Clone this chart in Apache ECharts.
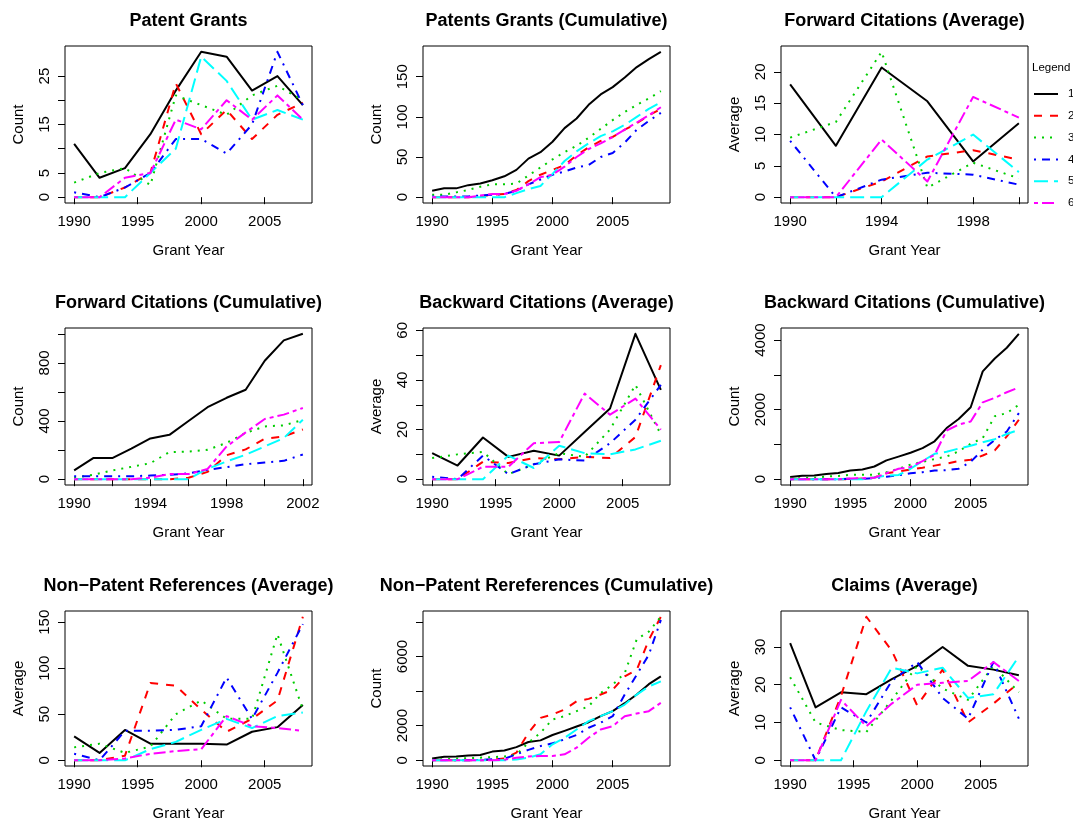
<!DOCTYPE html>
<html>
<head>
<meta charset="utf-8">
<title>Patent indicators by group</title>
<script src="https://cdn.jsdelivr.net/npm/echarts@6/dist/echarts.min.js"></script>
<style>
  html, body { margin: 0; padding: 0; background: #ffffff; }
  #chart { width: 1073px; height: 822px; }
</style>
</head>
<body>
<div id="chart"></div>
<script>
// ---- x values -------------------------------------------------------------
const yearsBiennial = [1990, 1992, 1994, 1996, 1998, 2000, 2002, 2004, 2006, 2008];
const yearsAnnual = [1990, 1991, 1992, 1993, 1994, 1995, 1996, 1997, 1998, 1999,
                     2000, 2001, 2002, 2003, 2004, 2005, 2006, 2007, 2008, 2009];
const yearsFwdAvg = [1990, 1992, 1994, 1996, 1998, 2000];
const yearsFwdCum = [1990, 1991, 1992, 1993, 1994, 1995, 1996, 1997, 1998, 1999, 2000, 2001, 2002];

// ---- series values (groups 1..6 per panel) ---------------------------------
const patentGrants = [
  [11, 4, 6, 13, 22, 30, 29, 22, 25, 19],
  [0, 0, 2, 5, 23.5, 13, 18, 12, 17, 19.5],
  [3, 5, 6, 2.5, 21, 19, 17, 21, 23, 20],
  [1, 0, 2, 5, 12, 12, 9, 15, 30, 19],
  [0, 0, 0, 5, 10, 29, 24, 16, 18, 16],
  [0, 0, 4, 5, 16, 14, 20, 16, 21, 16]
];
const patentGrantsCum = [
  [8, 11, 11, 15, 17, 21, 26, 34, 48, 56, 69, 86, 98, 115, 128, 137, 149, 162, 172, 181],
  [0, 0, 0, 0, 1, 3, 4, 9, 20, 28, 34, 40, 52, 62, 70, 75, 84, 92, 102, 110],
  [3, 3, 6, 9, 13, 16, 16, 17, 27, 37, 47, 56, 64, 74, 85, 96, 106, 115, 123, 132],
  [1, 1, 1, 1, 2, 3, 4, 8, 16, 22, 28, 32, 37, 40, 50, 55, 68, 84, 95, 105],
  [0, 0, 0, 0, 0, 0, 0, 5, 10, 14, 29, 45, 57, 67, 76, 82, 90, 100, 110, 118],
  [0, 0, 0, 0, 2, 4, 4, 8, 16, 25, 28, 38, 50, 60, 67, 75, 84, 93, 102, 112]
];
const fwdCitesAvg = [
  [18, 8.2, 20.7, 15.3, 5.7, 11.8],
  [0, 0, 2.5, 6.5, 7.5, 6],
  [9.5, 12, 23.2, 1.5, 5.5, 3],
  [9, 0, 2.8, 3.9, 3.6, 2],
  [0, 0, 0, 6, 10, 4],
  [0, 0, 9.2, 2.5, 16, 12.7]
];
const fwdCitesCum = [
  [60, 145, 145, 210, 280, 305, 400, 495, 560, 615, 815, 955, 1000],
  [0, 0, 0, 0, 0, 0, 10, 50, 165, 205, 278, 294, 342],
  [10, 30, 60, 85, 110, 186, 190, 202, 250, 318, 363, 370, 408],
  [20, 20, 20, 20, 25, 30, 40, 64, 83, 103, 115, 126, 170],
  [0, 0, 0, 0, 0, 0, 0, 72, 122, 168, 225, 283, 409],
  [0, 0, 0, 0, 10, 35, 35, 70, 225, 322, 414, 444, 490]
];
const bwdCitesAvg = [
  [10.5, 5.5, 16.8, 9, 11.5, 9.5, 19, 28.5, 58.6, 36],
  [0, 0, 7, 6.5, 8.5, 8, 9, 8.5, 17, 46],
  [8.5, 10, 11, 2, 6, 10.5, 9, 20, 38, 18],
  [1, 0, 9.5, 2, 6, 8, 7.5, 14.5, 24, 38],
  [0, 0, 0, 9.5, 4.5, 13.5, 10.5, 10, 12, 15.5],
  [0, 0, 5, 5, 14.5, 15, 34.5, 26, 32.5, 20]
];
const bwdCitesCum = [
  [60, 100, 105, 150, 180, 250, 280, 365, 540, 650, 760, 895, 1090, 1470, 1730, 2070, 3100, 3470, 3780, 4180],
  [0, 0, 0, 0, 0, 0, 20, 50, 170, 220, 280, 330, 390, 450, 520, 560, 680, 830, 1230, 1710],
  [20, 30, 40, 80, 90, 130, 130, 130, 200, 300, 420, 500, 580, 650, 800, 1020, 1180, 1810, 1900, 2140],
  [0, 0, 0, 0, 0, 10, 10, 30, 70, 110, 170, 200, 250, 260, 300, 500, 850, 1130, 1370, 1900],
  [0, 0, 0, 0, 0, 0, 0, 50, 100, 120, 300, 520, 730, 790, 880, 960, 1060, 1150, 1300, 1420],
  [0, 0, 0, 0, 0, 20, 30, 40, 170, 300, 350, 520, 700, 1400, 1570, 1660, 2210, 2340, 2500, 2640]
];
const nplAvg = [
  [26, 8, 33, 18, 18, 18, 17, 31, 36, 60],
  [0, 0, 5, 84, 81, 55, 31, 45, 65, 156],
  [14, 18, 8, 15, 50, 65, 45, 45, 137, 55],
  [7, 0, 32, 32, 33, 37, 90, 45, 95, 148],
  [0, 0, 0, 12, 20, 33, 45, 35, 48, 52],
  [0, 0, 2, 7, 10, 12, 48, 37, 35, 32]
];
const nplCum = [
  [100, 200, 220, 270, 300, 500, 560, 760, 1055, 1150, 1460, 1700, 1950, 2200, 2550, 2840, 3300, 3800, 4400, 4850],
  [0, 0, 0, 0, 0, 50, 100, 440, 1590, 2450, 2650, 2930, 3410, 3550, 3800, 4080, 4850, 5230, 6960, 8300],
  [20, 60, 100, 120, 150, 180, 220, 320, 1015, 1590, 2360, 2550, 2840, 3120, 3890, 4370, 5040, 7000, 7440, 8300],
  [0, 0, 0, 0, 20, 60, 80, 345, 600, 820, 980, 1210, 1460, 1880, 2170, 2550, 3800, 4950, 6100, 8110],
  [0, 0, 0, 0, 0, 0, 0, 50, 150, 345, 920, 1300, 1780, 2260, 2550, 2840, 3220, 3800, 4270, 4560],
  [0, 0, 0, 0, 0, 0, 30, 150, 220, 250, 250, 345, 730, 1300, 1780, 1970, 2550, 2700, 2840, 3320]
];
const claimsAvg = [
  [31, 14, 18, 17.5, 21.5, 25, 30, 25, 24, 22.5],
  [0, 0, 17, 38, 29, 14.5, 24, 10, 15, 20.5],
  [22, 10, 8, 7.5, 16, 25, 19, 16, 25, 18],
  [14, 0, 14, 10, 21, 26, 16.5, 11, 26, 11],
  [0, 0, 0, 13, 24.5, 23, 24.5, 16.5, 17.5, 27.5],
  [0, 0, 16, 9, 15, 20, 20.5, 21, 26, 21]
];

// ---- group names and tick positions ----------------------------------------
const groupNames = ['1', '2', '3', '4', '5', '6'];
const xTicks5 = [1990, 1995, 2000, 2005];
const xTicksFwdAvg = [1990, 1992, 1994, 1996, 1998, 2000];
const xLabelsFwdAvg = [1990, 1994, 1998];
const xTicksFwdCum = [1990, 1992, 1994, 1996, 1998, 2000, 2002];
const xLabelsFwdCum = [1990, 1994, 1998, 2002];

// ---- styling ---------------------------------------------------------------
const FONT = '"Liberation Sans", Arial, Helvetica, sans-serif';
const COLORS = ['#000000', '#FF0000', '#00CD00', '#0000FF', '#00FFFF', '#FF00FF'];
const DASHES = ['solid', [8, 8], [2, 6], [2, 6, 8, 6], [14, 6], [4, 4, 12, 4]];
const COL_LEFT = [65, 423, 781];
const ROW_TOP = [46, 328, 611];
const ROW_H = [157, 157, 156];
const BOX_W = 247;

const panels = [
  { title: 'Patent Grants', yName: 'Count', years: yearsBiennial, values: patentGrants,
    xTicks: xTicks5, xLabels: xTicks5, yTicks: [0, 5, 10, 15, 20, 25], yLabels: [0, 5, 15, 25] },
  { title: 'Patents Grants (Cumulative)', yName: 'Count', years: yearsAnnual, values: patentGrantsCum,
    xTicks: xTicks5, xLabels: xTicks5, yTicks: [0, 50, 100, 150], yLabels: [0, 50, 100, 150] },
  { title: 'Forward Citations (Average)', yName: 'Average', years: yearsFwdAvg, values: fwdCitesAvg,
    xTicks: xTicksFwdAvg, xLabels: xLabelsFwdAvg, yTicks: [0, 5, 10, 15, 20], yLabels: [0, 5, 10, 15, 20] },
  { title: 'Forward Citations (Cumulative)', yName: 'Count', years: yearsFwdCum, values: fwdCitesCum,
    xTicks: xTicksFwdCum, xLabels: xLabelsFwdCum, yTicks: [0, 200, 400, 600, 800, 1000], yLabels: [0, 400, 800] },
  { title: 'Backward Citations (Average)', yName: 'Average', years: yearsBiennial, values: bwdCitesAvg,
    xTicks: xTicks5, xLabels: xTicks5, yTicks: [0, 10, 20, 30, 40, 50, 60], yLabels: [0, 20, 40, 60] },
  { title: 'Backward Citations (Cumulative)', yName: 'Count', years: yearsAnnual, values: bwdCitesCum,
    xTicks: xTicks5, xLabels: xTicks5, yTicks: [0, 1000, 2000, 3000, 4000], yLabels: [0, 2000, 4000] },
  { title: 'Non\u2212Patent References (Average)', yName: 'Average', years: yearsBiennial, values: nplAvg,
    xTicks: xTicks5, xLabels: xTicks5, yTicks: [0, 50, 100, 150], yLabels: [0, 50, 100, 150] },
  { title: 'Non\u2212Patent Rereferences (Cumulative)', yName: 'Count', years: yearsAnnual, values: nplCum,
    xTicks: xTicks5, xLabels: xTicks5, yTicks: [0, 2000, 4000, 6000, 8000], yLabels: [0, 2000, 6000] },
  { title: 'Claims (Average)', yName: 'Average', years: yearsBiennial, values: claimsAvg,
    xTicks: xTicks5, xLabels: xTicks5, yTicks: [0, 10, 20, 30], yLabels: [0, 10, 20, 30] }
];

// R-style 4% padding on each side of the data range
const padMin = v => v.min - 0.04 * (v.max - v.min);
const padMax = v => v.max + 0.04 * (v.max - v.min);

const grids = [], xAxes = [], yAxes = [], titles = [], series = [];

panels.forEach((p, i) => {
  const col = i % 3, row = Math.floor(i / 3);
  const left = COL_LEFT[col], top = ROW_TOP[row], height = ROW_H[row];
  grids.push({
    left: left, top: top, width: BOX_W, height: height,
    show: true, borderColor: '#000', borderWidth: 1, backgroundColor: 'transparent'
  });
  const x0 = p.years[0], x1 = p.years[p.years.length - 1];
  xAxes.push({
    type: 'value', gridIndex: i,
    min: x0 - 0.04 * (x1 - x0), max: x1 + 0.04 * (x1 - x0),
    axisLine: { show: false },
    axisTick: { show: true, inside: false, length: 7, customValues: p.xTicks,
                lineStyle: { color: '#000', width: 1 } },
    axisLabel: { show: true, customValues: p.xLabels, margin: 11, fontSize: 15,
                 color: '#000', fontFamily: FONT, formatter: v => String(v) },
    splitLine: { show: false },
    name: 'Grant Year', nameLocation: 'middle', nameGap: 40,
    nameTextStyle: { fontSize: 15, color: '#000', fontFamily: FONT }
  });
  yAxes.push({
    type: 'value', gridIndex: i,
    min: padMin, max: padMax,
    axisLine: { show: false },
    axisTick: { show: true, inside: false, length: 7, customValues: p.yTicks,
                lineStyle: { color: '#000', width: 1 } },
    axisLabel: { show: true, customValues: p.yLabels, rotate: 90, margin: 13, fontSize: 15,
                 color: '#000', fontFamily: FONT, formatter: v => String(v) },
    splitLine: { show: false },
    name: p.yName, nameLocation: 'middle', nameGap: 39, nameRotate: 90,
    nameTextStyle: { fontSize: 15, color: '#000', fontFamily: FONT }
  });
  titles.push({
    text: p.title, left: left + BOX_W / 2, top: top - 34, textAlign: 'center', padding: 0,
    textStyle: { fontSize: 18, fontWeight: 'bold', color: '#000', fontFamily: FONT }
  });
  p.values.forEach((vals, k) => {
    series.push({
      type: 'line', name: groupNames[k], xAxisIndex: i, yAxisIndex: i,
      data: p.years.map((yr, j) => [yr, vals[j]]),
      symbol: 'none', silent: true, animation: false,
      lineStyle: { color: COLORS[k], width: 2, type: DASHES[k], cap: 'butt', join: 'round' },
      itemStyle: { color: COLORS[k] },
      emphasis: { disabled: true }
    });
  });
});

titles.push({
  text: 'Legend', left: 1032, top: 62, padding: 0,
  textStyle: { fontSize: 11.5, fontWeight: 'normal', color: '#000', fontFamily: FONT }
});

const chart = echarts.init(document.getElementById('chart'), null, { renderer: 'canvas' });
chart.setOption({
  animation: false,
  backgroundColor: '#ffffff',
  title: titles,
  legend: {
    data: groupNames, orient: 'vertical', left: 1033, top: 88, padding: 0,
    itemWidth: 24, itemHeight: 14, itemGap: 9.8, selectedMode: false,
    // line samples only: the marker drawn in the middle of each sample is hidden
    itemStyle: { color: 'rgba(0,0,0,0)', borderColor: 'rgba(0,0,0,0)', borderWidth: 0, opacity: 0 },
    textStyle: { fontSize: 11.5, color: '#000', fontFamily: FONT, padding: [0, 0, 0, 5] }
  },
  grid: grids,
  xAxis: xAxes,
  yAxis: yAxes,
  series: series
});
</script>
</body>
</html>
